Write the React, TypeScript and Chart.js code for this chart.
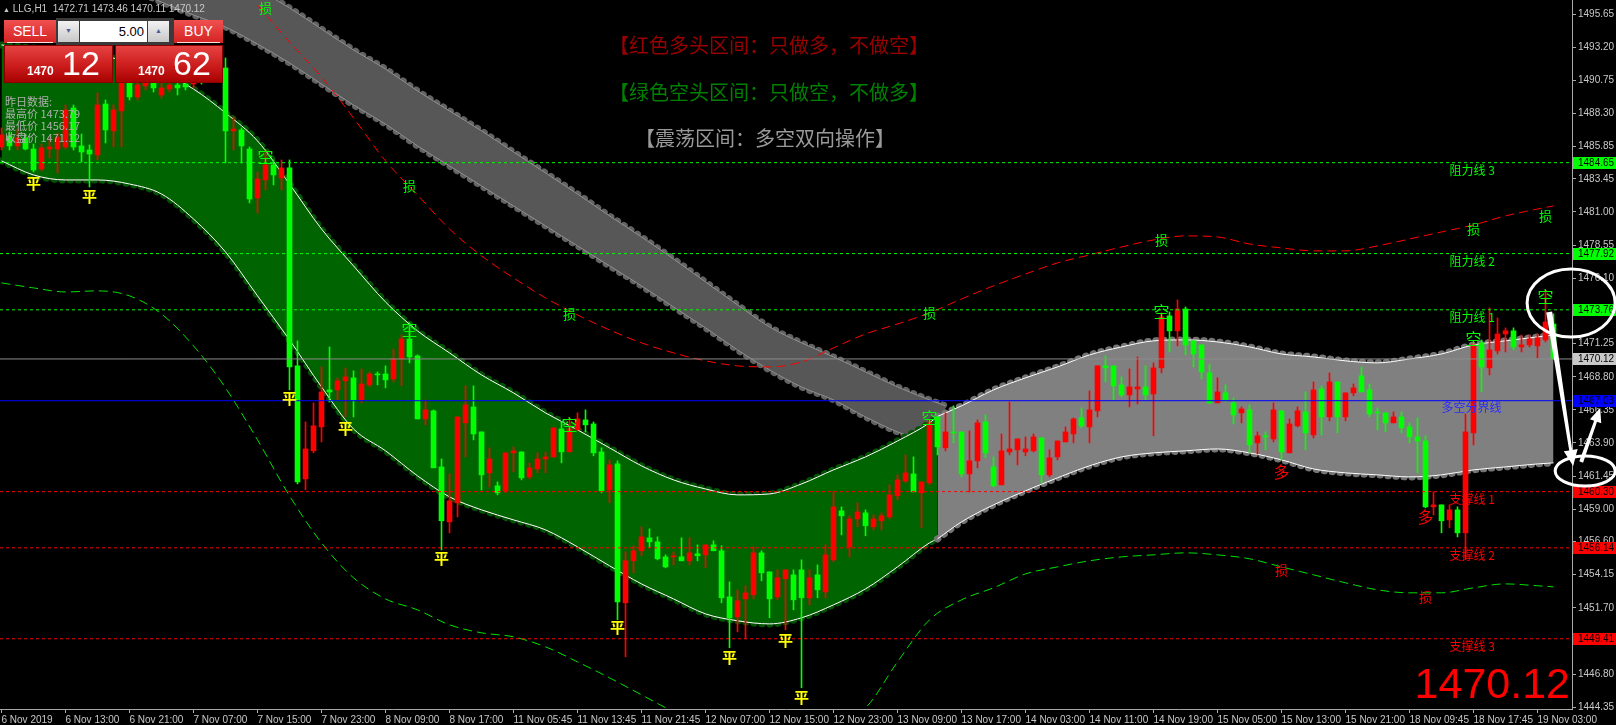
import React, { useEffect, useRef } from "react";
import { Chart, registerables } from "chart.js";

Chart.register(...registerables);

// ---------------- data ----------------
const OPEN = [
  1485.81,1486.63,1485.89,1486.48,1485.66,1484.18,1485.66,1485.66,1485.81,1488.70,
  1485.89,1485.59,1485.22,1488.99,1487.00,1488.48,1490.55,1489.51,1490.33,1490.77,
  1489.66,1490.10,1490.40,1490.47,1490.47,1491.07,1490.77,1491.66,1491.66,1487.00,
  1487.07,1485.66,1482.04,1483.37,1484.48,1483.52,1484.26,1469.61,1461.24,1463.32,
  1465.09,1467.83,1467.83,1468.50,1468.72,1467.09,1468.20,1469.01,1469.01,1468.64,
  1470.12,1471.60,1470.35,1465.68,1466.28,1462.13,1458.06,1459.47,1465.39,1466.57,
  1464.72,1461.69,1460.73,1460.36,1463.17,1463.24,1461.39,1461.98,1462.72,1462.87,
  1464.94,1463.24,1464.87,1465.61,1465.31,1463.24,1460.43,1462.35,1452.07,1455.18,
  1455.92,1456.88,1456.58,1455.47,1455.47,1455.47,1455.18,1455.70,1455.62,1456.36,
  1455.92,1452.51,1451.03,1452.36,1452.66,1455.77,1454.36,1452.51,1453.85,1454.14,
  1454.51,1452.44,1454.14,1452.88,1455.25,1458.88,1456.21,1458.28,1458.73,1457.69,
  1458.14,1458.43,1459.99,1461.09,1461.61,1460.21,1460.95,1465.83,1463.54,1464.72,
  1464.72,1461.61,1462.58,1465.46,1462.13,1460.80,1463.24,1463.39,1463.24,1463.32,
  1464.28,1461.54,1462.87,1463.98,1464.57,1465.76,1465.09,1466.28,1469.61,1469.61,
  1468.20,1467.46,1467.90,1468.05,1467.53,1469.46,1473.31,1472.20,1473.82,1471.46,
  1471.16,1469.09,1466.87,1467.61,1466.87,1466.13,1466.35,1463.91,1464.43,1464.20,
  1466.28,1463.17,1465.17,1466.20,1464.50,1467.90,1465.83,1468.42,1465.83,1467.61,
  1468.87,1467.83,1466.20,1466.13,1465.39,1465.83,1465.09,1464.35,1464.05,1459.17,
  1459.32,1458.21,1458.95,1457.25,1464.65,1471.31,1469.46,1470.72,1471.97,1472.20,
  1471.01,1471.16,1471.09,1471.53,1472.71,
];
const HIGH = [
  1487.22,1486.92,1487.14,1486.77,1486.03,1486.03,1486.55,1486.85,1488.92,1488.92,
  1486.77,1485.96,1489.81,1489.29,1488.92,1491.51,1491.14,1490.77,1491.14,1491.36,
  1490.92,1491.14,1490.92,1491.07,1491.51,1491.66,1492.25,1492.40,1492.40,1488.03,
  1487.22,1485.81,1483.96,1485.59,1484.85,1484.85,1484.85,1471.46,1465.46,1466.87,
  1469.53,1471.01,1468.72,1469.46,1469.24,1469.38,1469.16,1469.16,1469.61,1470.86,
  1471.90,1472.64,1470.42,1467.09,1466.35,1462.72,1461.61,1465.83,1468.13,1468.13,
  1464.72,1463.54,1461.02,1463.17,1463.61,1463.24,1462.43,1463.17,1463.24,1465.02,
  1465.46,1465.76,1466.13,1466.35,1465.46,1463.54,1462.65,1462.58,1455.84,1456.29,
  1457.69,1457.54,1456.95,1455.62,1455.84,1456.88,1456.88,1456.36,1456.36,1456.66,
  1456.29,1453.62,1453.03,1453.33,1456.21,1455.92,1454.36,1454.51,1454.51,1454.51,
  1455.25,1454.51,1454.88,1456.36,1460.28,1459.17,1458.51,1459.47,1458.95,1458.58,
  1458.73,1460.80,1461.54,1463.02,1462.87,1461.02,1465.61,1465.83,1466.13,1466.65,
  1464.72,1464.80,1465.61,1465.98,1462.87,1464.57,1466.94,1464.20,1464.35,1464.57,
  1464.28,1463.39,1464.05,1465.09,1465.76,1466.50,1467.76,1469.61,1470.35,1469.61,
  1468.79,1469.38,1470.27,1469.61,1469.83,1473.53,1473.60,1474.49,1473.97,1471.46,
  1471.16,1469.75,1468.72,1468.20,1467.24,1466.57,1466.72,1464.72,1464.72,1466.87,
  1466.28,1465.68,1466.57,1467.68,1468.42,1468.13,1469.09,1468.42,1467.61,1468.27,
  1469.53,1468.27,1466.50,1466.13,1466.20,1466.20,1465.39,1465.76,1464.43,1460.28,
  1459.32,1459.32,1459.17,1466.05,1471.31,1471.53,1473.90,1473.16,1472.42,1472.42,
  1471.90,1471.90,1471.97,1475.23,1473.46,
];
const LOW = [
  1485.59,1485.59,1485.59,1485.59,1483.96,1484.04,1485.00,1483.89,1485.66,1485.59,
  1484.70,1482.85,1484.85,1486.11,1485.81,1485.81,1489.29,1489.29,1490.03,1489.88,
  1489.44,1489.88,1489.66,1490.03,1490.18,1490.47,1490.62,1491.51,1484.63,1485.59,
  1484.63,1481.67,1480.93,1482.63,1483.00,1482.63,1467.83,1460.87,1460.43,1463.17,
  1463.98,1466.94,1467.09,1465.83,1465.83,1466.87,1468.05,1468.20,1467.98,1468.42,
  1468.13,1469.83,1465.68,1465.24,1462.06,1455.99,1457.25,1458.43,1462.87,1464.13,
  1460.43,1460.65,1460.06,1460.21,1461.76,1461.17,1461.24,1461.69,1461.69,1462.80,
  1462.43,1463.24,1464.87,1464.72,1462.95,1460.21,1459.47,1450.81,1448.07,1454.29,
  1455.55,1456.14,1455.25,1454.66,1454.88,1455.18,1454.88,1455.18,1454.66,1455.92,
  1452.07,1448.74,1449.92,1449.40,1452.36,1453.70,1450.96,1452.29,1450.07,1451.55,
  1445.78,1451.92,1452.44,1452.44,1455.10,1457.10,1455.47,1457.69,1457.03,1457.47,
  1457.47,1458.28,1459.69,1460.95,1460.28,1457.62,1460.80,1463.02,1463.32,1463.91,
  1461.39,1460.28,1462.06,1462.80,1460.65,1460.80,1463.02,1462.28,1462.95,1463.24,
  1460.95,1461.39,1462.65,1463.98,1463.91,1465.02,1463.91,1465.83,1468.42,1467.09,
  1467.31,1466.57,1466.79,1467.09,1464.43,1469.09,1470.64,1471.09,1470.42,1469.53,
  1468.64,1466.79,1466.87,1466.94,1465.31,1465.39,1463.17,1463.09,1463.39,1463.98,
  1462.65,1463.17,1465.09,1463.39,1464.28,1464.50,1465.54,1464.65,1465.54,1467.39,
  1467.68,1465.83,1464.87,1464.72,1465.39,1464.65,1463.91,1461.69,1459.10,1458.58,
  1457.25,1457.62,1456.95,1455.25,1463.76,1467.68,1468.94,1470.49,1470.64,1470.79,
  1470.64,1471.01,1470.20,1471.38,1470.11,
];
const CLOSE = [
  1486.70,1485.89,1486.48,1485.66,1484.11,1485.74,1485.81,1486.55,1488.55,1485.81,
  1485.44,1485.29,1488.92,1487.07,1488.55,1490.55,1489.51,1490.40,1490.77,1490.18,
  1490.18,1490.40,1490.18,1490.25,1491.07,1490.77,1491.81,1492.10,1487.00,1487.14,
  1485.89,1481.96,1483.44,1484.48,1483.74,1484.26,1469.53,1461.02,1463.46,1465.17,
  1467.68,1467.68,1468.50,1468.79,1467.09,1468.27,1469.01,1468.94,1468.57,1470.12,
  1471.60,1470.27,1465.68,1466.35,1462.06,1458.14,1459.62,1465.83,1466.72,1464.57,
  1461.54,1462.72,1460.21,1463.17,1463.32,1461.32,1462.06,1462.72,1462.87,1465.02,
  1463.24,1464.94,1465.68,1465.24,1463.17,1460.36,1462.28,1452.14,1455.18,1455.92,
  1456.95,1456.58,1455.33,1454.73,1455.55,1455.18,1455.77,1455.55,1456.36,1455.92,
  1452.44,1450.96,1452.22,1452.81,1455.77,1454.29,1452.36,1453.92,1454.51,1452.29,
  1452.44,1453.92,1453.03,1455.62,1459.17,1458.51,1458.28,1458.80,1457.77,1458.28,
  1458.51,1460.06,1461.17,1461.69,1460.28,1461.02,1465.39,1463.61,1464.72,1464.65,
  1461.61,1462.58,1465.39,1463.17,1460.73,1463.32,1463.46,1464.20,1463.46,1464.35,
  1461.54,1462.80,1464.05,1464.72,1465.68,1465.17,1466.35,1469.61,1469.46,1468.13,
  1467.46,1468.05,1468.05,1467.46,1469.46,1473.23,1472.20,1473.82,1471.16,1470.49,
  1469.16,1466.87,1467.68,1467.09,1465.98,1466.42,1463.76,1464.43,1464.35,1466.35,
  1463.24,1465.31,1466.28,1464.65,1467.83,1465.83,1468.42,1465.83,1467.61,1467.98,
  1467.68,1466.05,1466.13,1465.39,1465.83,1465.02,1464.35,1464.05,1459.17,1459.32,
  1458.14,1458.95,1457.25,1464.72,1471.16,1469.53,1470.79,1471.97,1472.20,1471.01,
  1471.16,1471.60,1471.68,1472.86,1470.12,
];

const X_TICK_BARS = [0, 8, 16, 24, 32, 40, 48, 56, 64, 72, 80, 88, 96, 104, 112, 120, 128, 136, 144, 152, 160, 168, 176, 184, 192];
const X_TICK_LABELS = [
  "6 Nov 2019", "6 Nov 13:00", "6 Nov 21:00", "7 Nov 07:00", "7 Nov 15:00", "7 Nov 23:00",
  "8 Nov 09:00", "8 Nov 17:00", "11 Nov 05:45", "11 Nov 13:45", "11 Nov 21:45", "12 Nov 07:00",
  "12 Nov 15:00", "12 Nov 23:00", "13 Nov 09:00", "13 Nov 17:00", "14 Nov 03:00", "14 Nov 11:00",
  "14 Nov 19:00", "15 Nov 05:00", "15 Nov 13:00", "15 Nov 21:00", "18 Nov 09:45", "18 Nov 17:45",
  "19 Nov 03:00",
];
const Y_TICK_VALUES = [
  1444.35, 1446.80, 1449.25, 1451.70, 1454.15, 1456.60, 1459.00, 1461.45, 1463.90, 1466.35, 1468.80,
  1471.25, 1473.70, 1476.10, 1478.55, 1481.00, 1483.45, 1485.85, 1488.30, 1490.75, 1493.20, 1495.65,
];

const RESIST_LEVELS = [1484.65, 1477.92, 1473.76];
const RESIST_NAMES = ["阻力线 3", "阻力线 2", "阻力线 1"];
const SUPPORT_LEVELS = [1460.30, 1456.14, 1449.41];
const SUPPORT_NAMES = ["支撑线 1", "支撑线 2", "支撑线 3"];
const PIVOT_LEVEL = 1467.03;
const PIVOT_NAME = "多空分界线";
const LAST_PRICE = 1470.12;

// green (bear) channel
const GREEN_X = [0, 4, 8, 12, 16, 20, 24, 28, 32, 36, 40, 44, 48, 52, 56, 60, 64, 68, 72, 76, 80, 84, 88, 92, 96, 100, 104, 108, 112, 116, 117];
const GREEN_UP = [
  1493.36, 1493.14, 1492.92, 1492.62, 1492.10, 1491.36, 1490.10, 1488.33, 1486.26, 1483.07, 1479.74,
  1477.01, 1474.34, 1472.20, 1470.57, 1468.94, 1467.61, 1466.13, 1464.87, 1463.54, 1462.21, 1461.17,
  1460.50, 1460.06, 1460.13, 1460.87, 1461.91, 1462.87, 1464.05, 1465.39, 1465.87,
];
const GREEN_LO = [
  1484.78, 1483.74, 1483.37, 1483.37, 1483.07, 1482.33, 1480.48, 1478.04, 1474.79, 1471.53, 1468.05,
  1464.94, 1463.32, 1461.47, 1459.91, 1458.95, 1458.21, 1457.47, 1456.21, 1454.81, 1453.47, 1452.36,
  1451.25, 1450.74, 1450.51, 1450.96, 1451.92, 1453.10, 1454.73, 1456.51, 1456.80,
];
// grey (range) channel
const GRAY_X = [117, 120, 124, 128, 132, 136, 140, 144, 148, 152, 156, 160, 164, 168, 172, 176, 180, 184, 188, 192, 194];
const GRAY_UP = [
  1465.87, 1466.65, 1467.83, 1468.72, 1469.53, 1470.42, 1471.01, 1471.46, 1471.53, 1471.38, 1471.01,
  1470.49, 1470.27, 1469.98, 1469.83, 1470.12, 1470.49, 1471.16, 1471.46, 1471.75, 1471.90,
];
const GRAY_LO = [
  1456.80, 1458.06, 1459.32, 1460.36, 1461.32, 1462.21, 1462.87, 1463.17, 1463.32, 1463.46, 1463.17,
  1462.65, 1461.98, 1461.69, 1461.54, 1461.39, 1461.54, 1461.91, 1462.13, 1462.35, 1462.43,
];
// dark grey cloud
const DARK_X = [16, 20, 24, 28, 32, 36, 40, 44, 48, 52, 56, 60, 64, 68, 72, 76, 80, 84, 88, 92, 96, 100, 104, 108, 112, 116, 118];
const DARK_UP = [
  1501.65, 1500.61, 1499.65, 1498.76, 1497.50, 1496.10, 1494.54, 1492.99, 1491.58, 1489.96, 1488.48,
  1487.00, 1485.44, 1483.89, 1482.33, 1480.71, 1479.15, 1477.52, 1475.82, 1474.12, 1472.49, 1471.31,
  1470.27, 1469.16, 1468.05, 1467.09, 1466.65,
];
const DARK_LO = [
  1497.58, 1496.54, 1495.58, 1494.69, 1493.43, 1492.03, 1490.47, 1488.92, 1487.51, 1485.89, 1484.41,
  1482.93, 1481.45, 1479.97, 1478.49, 1477.01, 1475.53, 1473.97, 1472.42, 1470.79, 1469.31, 1468.05,
  1467.09, 1465.83, 1464.72, 1463.91, 1463.54,
];
// red dashed (upper) and green dashed (lower) envelopes
const RED_CURVE_X = [32, 36, 40, 44, 48, 52, 56, 60, 64, 68, 72, 76, 80, 84, 88, 92, 96, 100, 104, 108, 112, 116, 120, 124, 128, 132, 136, 140, 144, 148, 152, 156, 160, 164, 168, 172, 176, 180, 184, 188, 192, 194];
const RED_CURVE = [
  1496.32, 1493.58, 1490.99, 1487.96, 1484.78, 1482.26, 1479.74, 1477.75, 1476.12, 1474.64, 1473.38,
  1472.27, 1471.31, 1470.57, 1469.98, 1469.61, 1469.53, 1469.90, 1470.94, 1471.97, 1472.71, 1473.53,
  1474.56, 1475.53, 1476.41, 1477.23, 1477.82, 1478.41, 1478.93, 1479.23, 1479.15, 1478.63, 1478.34,
  1478.12, 1478.12, 1478.49, 1479.00, 1479.52, 1480.04, 1480.71, 1481.22, 1481.45,
];
const GREEN_CURVE_X = [0, 4, 8, 12, 16, 20, 24, 28, 32, 36, 40, 44, 48, 52, 56, 60, 64, 68, 72, 76, 80, 84, 88, 92, 96, 100, 104, 108, 112, 116, 120, 124, 128, 132, 136, 140, 144, 148, 152, 156, 160, 164, 168, 172, 176, 180, 184, 188, 192, 194];
const GREEN_CURVE = [
  1475.75, 1475.38, 1475.08, 1475.16, 1474.79, 1473.45, 1471.09, 1467.98, 1464.13, 1459.99,
  1456.51, 1453.92, 1452.36, 1451.55, 1450.44, 1449.85, 1449.55, 1448.81, 1447.70, 1446.52,
  1445.26, 1444.00, 1442.89, 1442.23, 1441.93, 1442.30, 1443.26, 1444.30, 1447.70, 1450.81,
  1452.29, 1453.18, 1454.21, 1454.73, 1455.18, 1455.47, 1455.62, 1455.77, 1455.62, 1455.33,
  1454.73, 1454.14, 1453.55, 1453.03, 1452.81, 1452.81, 1453.18, 1453.47, 1453.33, 1453.25,
];

// signal markers
const SHORT_BARS = [33, 51, 71, 116, 145, 184, 193];
const SHORT_PRICES = [1485.07, 1472.27, 1465.24, 1465.76, 1473.60, 1471.60, 1474.71];
const SHORT_STOP_PRICES = [1496.10, 1482.93, 1473.45, 1473.53, 1478.93, 1479.74, 1480.71];
const LONG_BARS = [160, 178];
const LONG_PRICES = [1461.76, 1458.43];
const LONG_STOP_PRICES = [1454.51, 1452.51];
const FLAT_BARS = [4, 11, 36, 43, 55, 77, 91, 98, 100];
const FLAT_PRICES = [1483.15, 1482.19, 1467.24, 1465.02, 1455.40, 1450.29, 1448.07, 1449.33, 1445.04];

// hand-drawn annotations (bar, price)
const CIRCLE_TOP = { bar: 196.2, price: 1474.26, rBars: 5.5, rPrice: 2.52 };
const CIRCLE_BOTTOM = { bar: 197.96, price: 1461.83, rBars: 3.75, rPrice: 1.11 };
const ARROW_DOWN = { from: [193.46, 1473.6], to: [196.46, 1462.2] };
const ARROW_UP = { from: [197.46, 1462.49], to: [199.84, 1466.49] };

// ---------------- style ----------------
const X_MIN = -0.1875;
const X_MAX = 196.3125;
const Y_MIN = 1444.21;
const Y_MAX = 1496.69;
const UP_COLOR = "#ff0000";
const DOWN_COLOR = "#00ff00";
const AXIS_COLOR = "#a8a8a8";
const AXIS_TEXT = "#c8c8c8";
const AXIS_FAMILY = "'Liberation Sans', Arial, sans-serif";
const AXIS_SIZE = 10;
const CJK = "'Noto Sans CJK SC', sans-serif";
const LABEL_BAR = 181;
const PIVOT_LABEL_BAR = 180;

const pts = (xs: number[], ys: number[]) => xs.map((x, i) => ({ x, y: ys[i] }));

const overlayPlugin = {
  id: "mt4Overlay",
  afterDatasetsDraw(chart: any) {
    const { ctx, chartArea: a, scales } = chart;
    const X = (b: number) => scales.x.getPixelForValue(b);
    const Y = (p: number) => scales.y.getPixelForValue(p);
    ctx.save();
    ctx.beginPath();
    ctx.rect(a.left, a.top, a.right - a.left, a.bottom - a.top);
    ctx.clip();
    const text = (s: string, b: number, p: number, color: string, font: string, align = "center", base = "middle", dy = 0) => {
      ctx.font = font;
      ctx.fillStyle = color;
      ctx.textAlign = align;
      ctx.textBaseline = base;
      ctx.fillText(s, X(b), Y(p) + dy);
    };
    RESIST_LEVELS.forEach((v, k) => text(RESIST_NAMES[k], LABEL_BAR, v, "#00ff00", `12px ${CJK}`, "left", "top", 2));
    SUPPORT_LEVELS.forEach((v, k) => text(SUPPORT_NAMES[k], LABEL_BAR, v, "#ff0000", `12px ${CJK}`, "left", "top", 2));
    text(PIVOT_NAME, PIVOT_LABEL_BAR, PIVOT_LEVEL, "#2a2aff", `12px ${CJK}`, "left", "top", 1);
    SHORT_BARS.forEach((b, k) => {
      text("损", b, SHORT_STOP_PRICES[k], "#00ff00", `13px ${CJK}`);
      text("空", b, SHORT_PRICES[k], "#00ff00", `16px ${CJK}`);
    });
    LONG_BARS.forEach((b, k) => {
      text("损", b, LONG_STOP_PRICES[k], "#ff0000", `13px ${CJK}`);
      text("多", b, LONG_PRICES[k], "#ff0000", `16px ${CJK}`);
    });
    FLAT_BARS.forEach((b, k) => text("平", b, FLAT_PRICES[k], "#ffff00", `bold 15px ${CJK}`));
    ctx.restore();
  },
  afterDraw(chart: any) {
    const { ctx, chartArea: a, scales, width } = chart;
    const X = (b: number) => scales.x.getPixelForValue(b);
    const Y = (p: number) => scales.y.getPixelForValue(p);
    ctx.save();
    // price boxes on the axis
    const box = (v: number, bg: string, fg: string) => {
      const py = Y(v);
      ctx.fillStyle = bg;
      ctx.fillRect(a.right + 1, Math.round(py) - 6, width - a.right - 1, 12);
      ctx.fillStyle = fg;
      ctx.font = `${AXIS_SIZE}px ${AXIS_FAMILY}`;
      ctx.textAlign = "left";
      ctx.textBaseline = "middle";
      ctx.fillText(v.toFixed(2), a.right + 6, Math.round(py) + 0.5);
    };
    RESIST_LEVELS.forEach((v) => box(v, "#00ff00", "#000000"));
    SUPPORT_LEVELS.forEach((v) => box(v, "#ff0000", "#000000"));
    box(LAST_PRICE, "#c8c8c8", "#000000");
    box(PIVOT_LEVEL, "#0000ff", "#000000");

    // white hand-drawn marks
    ctx.strokeStyle = "#ffffff";
    ctx.fillStyle = "#ffffff";
    ctx.lineWidth = 3;
    const ell = (c: any) => {
      const cx = X(c.bar), cy = Y(c.price);
      const rx = X(c.bar + c.rBars) - cx, ry = cy - Y(c.price + c.rPrice);
      ctx.beginPath();
      ctx.ellipse(cx, cy, rx, ry, 0, 0, Math.PI * 2);
      ctx.stroke();
    };
    ell(CIRCLE_TOP);
    ell(CIRCLE_BOTTOM);
    const arrow = (ar: any, w0: number, w1: number, headLen: number, headHalf: number) => {
      const x0 = X(ar.from[0]), y0 = Y(ar.from[1]), x1 = X(ar.to[0]), y1 = Y(ar.to[1]);
      const dx = x1 - x0, dy = y1 - y0, len = Math.hypot(dx, dy);
      const ux = dx / len, uy = dy / len, nx = -uy, ny = ux;
      const bx = x1 - ux * headLen, by = y1 - uy * headLen;
      ctx.beginPath();
      ctx.moveTo(x0 + (nx * w0) / 2, y0 + (ny * w0) / 2);
      ctx.lineTo(bx + (nx * w1) / 2, by + (ny * w1) / 2);
      ctx.lineTo(bx + nx * headHalf, by + ny * headHalf);
      ctx.lineTo(x1, y1);
      ctx.lineTo(bx - nx * headHalf, by - ny * headHalf);
      ctx.lineTo(bx - (nx * w1) / 2, by - (ny * w1) / 2);
      ctx.lineTo(x0 - (nx * w0) / 2, y0 - (ny * w0) / 2);
      ctx.closePath();
      ctx.fill();
    };
    arrow(ARROW_DOWN, 6, 3, 16, 7);
    arrow(ARROW_UP, 4, 3, 14, 6);
    ctx.restore();
  },
};

function buildConfig() {
  const candleColors = CLOSE.map((c, i) => (c >= OPEN[i] ? UP_COLOR : DOWN_COLOR));
  const line = (xs: number[], ys: number[], extra: any) => ({
    type: "line",
    data: pts(xs, ys),
    pointRadius: 0,
    pointHoverRadius: 0,
    borderWidth: 1,
    fill: false,
    cubicInterpolationMode: "monotone",
    ...extra,
  });
  const scallop = (xs: number[], ys: number[], color: string, order: number) =>
    line(xs, ys, { borderColor: color, borderWidth: 7, borderDash: [0.5, 7.5], borderCapStyle: "round", order });
  const hline = (v: number, color: string, dash: number[]) => ({
    type: "line",
    data: [{ x: X_MIN, y: v }, { x: X_MAX, y: v }],
    borderColor: color,
    borderWidth: 1,
    borderDash: dash,
    pointRadius: 0,
    fill: false,
    order: 10,
  });
  const datasets: any[] = [
    scallop(DARK_X, DARK_UP, "#636363", 100),
    scallop(DARK_X, DARK_LO, "#636363", 100),
    line(DARK_X, DARK_UP, { borderColor: "#909090", order: 90 }),
    line(DARK_X, DARK_LO, { borderColor: "#909090", fill: "-1", backgroundColor: "#575757", order: 90 }),
    scallop(GREEN_X, GREEN_UP, "#005500", 80),
    scallop(GREEN_X, GREEN_LO, "#005500", 80),
    line(GREEN_X, GREEN_UP, { borderColor: "#ffffff", order: 70 }),
    line(GREEN_X, GREEN_LO, { borderColor: "#ffffff", fill: "-1", backgroundColor: "#006400", order: 70 }),
    scallop(GRAY_X, GRAY_UP, "#747474", 60),
    scallop(GRAY_X, GRAY_LO, "#747474", 60),
    line(GRAY_X, GRAY_UP, { borderColor: "#ffffff", order: 50 }),
    line(GRAY_X, GRAY_LO, { borderColor: "#ffffff", fill: "-1", backgroundColor: "#808080", order: 50 }),
    line(RED_CURVE_X, RED_CURVE, { borderColor: "#ff0000", borderDash: [9, 5], order: 40 }),
    line(GREEN_CURVE_X, GREEN_CURVE, { borderColor: "#00e000", borderDash: [9, 5], order: 40 }),
    {
      type: "bar",
      data: OPEN.map((_, i) => ({ x: i, y: [LOW[i], HIGH[i]] })),
      backgroundColor: candleColors,
      barThickness: 1,
      grouped: false,
      borderWidth: 0,
      order: 30,
    },
    {
      type: "bar",
      data: OPEN.map((o, i) => ({ x: i, y: [o, CLOSE[i]] })),
      backgroundColor: candleColors,
      barThickness: 5,
      minBarLength: 1,
      grouped: false,
      borderWidth: 0,
      order: 20,
    },
    ...RESIST_LEVELS.map((v) => hline(v, "#00ff00", [3, 3])),
    ...SUPPORT_LEVELS.map((v) => hline(v, "#ff0000", [3, 3])),
    hline(LAST_PRICE, "#8c8c8c", []),
    hline(PIVOT_LEVEL, "#0000ff", []),
  ];

  return {
    type: "bar",
    data: { datasets },
    plugins: [overlayPlugin],
    options: {
      animation: false,
      responsive: false,
      maintainAspectRatio: false,
      events: [],
      layout: { padding: 0 },
      plugins: { legend: { display: false }, tooltip: { enabled: false } },
      scales: {
        x: {
          type: "linear",
          min: X_MIN,
          max: X_MAX,
          offset: false,
          grid: { display: true, drawOnChartArea: false, drawTicks: true, tickLength: 4, color: AXIS_COLOR, offset: false },
          border: { display: true, color: AXIS_COLOR },
          ticks: {
            color: AXIS_TEXT,
            font: { family: AXIS_FAMILY, size: AXIS_SIZE },
            autoSkip: false,
            maxRotation: 0,
            minRotation: 0,
            align: "start",
            padding: 1,
            callback: (v: any) => {
              const k = X_TICK_BARS.indexOf(Number(v));
              return k >= 0 ? X_TICK_LABELS[k] : "";
            },
          },
          afterBuildTicks: (s: any) => {
            s.ticks = X_TICK_BARS.map((v) => ({ value: v }));
          },
          afterFit: (s: any) => {
            s.height = 16;
            s.paddingLeft = 0;
            s.paddingRight = 0;
          },
        },
        y: {
          position: "right",
          min: Y_MIN,
          max: Y_MAX,
          grid: { display: true, drawOnChartArea: false, drawTicks: true, tickLength: 4, color: AXIS_COLOR },
          border: { display: true, color: AXIS_COLOR },
          ticks: {
            color: AXIS_TEXT,
            font: { family: AXIS_FAMILY, size: AXIS_SIZE },
            autoSkip: false,
            padding: 2,
            callback: (v: any) => Number(v).toFixed(2),
          },
          afterBuildTicks: (s: any) => {
            s.ticks = Y_TICK_VALUES.map((v) => ({ value: v }));
          },
          afterFit: (s: any) => {
            s.width = 44;
            s.paddingTop = 0;
            s.paddingBottom = 0;
          },
        },
      },
    },
  };
}

const abs = (s: any) => ({ position: "absolute", ...s });
const PANEL_FONT = "'Liberation Sans', Arial, sans-serif";

function PriceBox({ left, width, big }: { left: number; width: number; big: string }) {
  return (
    <div
      style={abs({
        left,
        top: 45,
        width,
        height: 38,
        background: "linear-gradient(#e64444 0%, #cc1c1c 55%, #a60000 100%)",
        boxShadow: "inset 0 0 0 1px #8a0000",
      })}
    >
      <div style={abs({ left: 23, top: 20, font: `bold 12px ${PANEL_FONT}`, lineHeight: "12px", color: "#ffffff" })}>1470</div>
      <div style={abs({ left: 58, top: 1, font: `34px ${PANEL_FONT}`, lineHeight: "34px", color: "#ffffff" })}>{big}</div>
    </div>
  );
}

function TradeButton({ left, width, label }: { left: number; width: number; label: string }) {
  return (
    <div
      style={abs({
        left,
        top: 20,
        width,
        height: 23,
        background: "linear-gradient(#f05050, #d42222)",
        color: "#ffffff",
        font: `14px ${PANEL_FONT}`,
        lineHeight: "22px",
        textAlign: "center",
      })}
    >
      {label}
      <div style={abs({ left: 3, right: 3, bottom: 0, height: 1, background: "#ffe0e0" })} />
    </div>
  );
}

export default function App() {
  const canvasRef = useRef<HTMLCanvasElement | null>(null);
  useEffect(() => {
    const canvas = canvasRef.current;
    if (!canvas) return;
    const chart = new Chart(canvas, buildConfig() as any);
    return () => chart.destroy();
  }, []);

  return (
    <div style={{ position: "fixed", left: 0, top: 0, width: 1616, height: 725, background: "#000000", overflow: "hidden" }}>
      <canvas ref={canvasRef} width={1616} height={725} style={{ position: "absolute", left: 0, top: 0, width: 1616, height: 725 }} />

      {/* header */}
      <div style={abs({ left: 3, top: 2, font: `10px ${PANEL_FONT}`, lineHeight: "13px", color: "#c8c8c8", whiteSpace: "pre" })}>
        <span style={{ fontSize: 7 }}>▲</span> LLG,H1  1472.71 1473.46 1470.11 1470.12
      </div>

      {/* one-click trading panel */}
      <TradeButton left={4} width={52} label="SELL" />
      <div style={abs({ left: 56, top: 18, width: 118, height: 27, background: "#3a3a3a" })} />
      <div style={abs({ left: 58, top: 21, width: 21, height: 21, background: "linear-gradient(#f2f2f2,#c8c8c8)", color: "#4a5f9a", fontSize: 7, lineHeight: "21px", textAlign: "center" })}>▼</div>
      <div style={abs({ left: 80, top: 21, width: 67, height: 21, background: "#ffffff", color: "#000000", font: `13px ${PANEL_FONT}`, lineHeight: "21px", textAlign: "right", paddingRight: 3, boxSizing: "border-box" })}>5.00</div>
      <div style={abs({ left: 148, top: 21, width: 21, height: 21, background: "linear-gradient(#f2f2f2,#c8c8c8)", color: "#4a5f9a", fontSize: 7, lineHeight: "21px", textAlign: "center" })}>▲</div>
      <TradeButton left={174} width={49} label="BUY" />
      <PriceBox left={4} width={109} big="12" />
      <PriceBox left={115} width={108} big="62" />

      {/* yesterday data */}
      <div style={abs({ left: 5, top: 95, font: `11px ${CJK}`, lineHeight: "12px", color: "#b0b0b0", whiteSpace: "pre" })}>
        <div>昨日数据:</div>
        <div>最高价 1473.79</div>
        <div>最低价 1456.17</div>
        <div>收盘价 1471.12</div>
      </div>

      {/* legend texts */}
      <div style={abs({ left: 609, top: 34, font: `20px ${CJK}`, lineHeight: "22px", color: "#9a0000", whiteSpace: "pre" })}>【红色多头区间：只做多，不做空】</div>
      <div style={abs({ left: 609, top: 81, font: `20px ${CJK}`, lineHeight: "22px", color: "#008000", whiteSpace: "pre" })}>【绿色空头区间：只做空，不做多】</div>
      <div style={abs({ left: 635, top: 127, font: `20px ${CJK}`, lineHeight: "22px", color: "#9a9a9a", whiteSpace: "pre" })}>【震荡区间：多空双向操作】</div>

      {/* big last price */}
      <div style={abs({ left: 1380, top: 662, width: 190, textAlign: "right", font: `43px ${PANEL_FONT}`, lineHeight: "43px", color: "#ff0000" })}>1470.12</div>
    </div>
  );
}
